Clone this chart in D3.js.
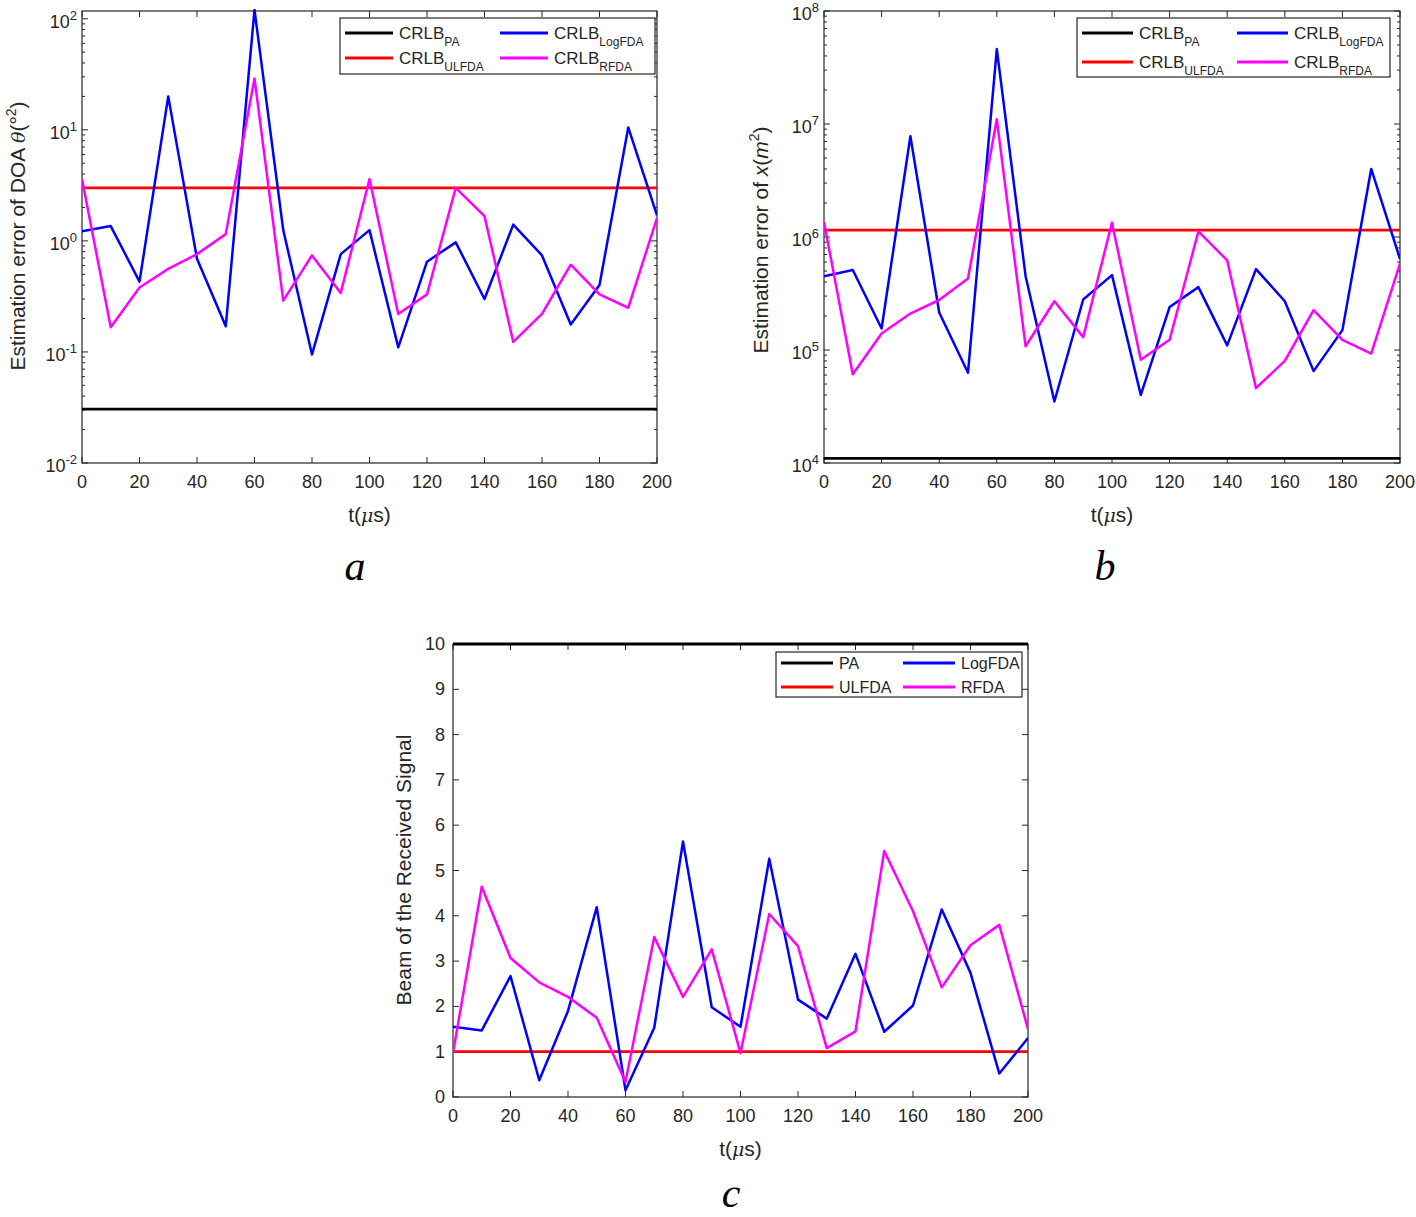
<!DOCTYPE html>
<html><head><meta charset="utf-8">
<script src="https://cdn.jsdelivr.net/npm/d3@7"></script>
<style>body{margin:0;background:#fff}svg{display:block}</style>
</head><body>
<svg id="c" width="1416" height="1217"></svg>
<script>
const tValues = [0,10,20,30,40,50,60,70,80,90,100,110,120,130,140,150,160,170,180,190,200];
const xTicks = [0,20,40,60,80,100,120,140,160,180,200];

// Panel a: estimation error of DOA
const aPA = 0.0305;
const aULFDA = 3.0;
const aLogFDA = [1.22,1.36,0.43,20,0.69,0.17,120,1.25,0.095,0.76,1.25,0.11,0.65,0.97,0.30,1.4,0.74,0.177,0.40,10.5,1.7];
const aRFDA = [3.6,0.167,0.38,0.56,0.76,1.15,29,0.29,0.74,0.34,3.6,0.22,0.33,3.0,1.67,0.123,0.22,0.61,0.33,0.25,1.6];
const aYExp = [-2,-1,0,1,2];

// Panel b: estimation error of x
const bPA = 1.1e4;
const bULFDA = 1.15e6;
const bLogFDA = [4.5e5,5.1e5,1.55e5,7.8e6,2.15e5,6.3e4,4.6e7,4.5e5,3.5e4,2.8e5,4.6e5,4.0e4,2.4e5,3.6e5,1.1e5,5.2e5,2.7e5,6.5e4,1.5e5,4.0e6,6.4e5];
const bRFDA = [1.36e6,6.1e4,1.4e5,2.1e5,2.77e5,4.3e5,1.1e7,1.08e5,2.7e5,1.3e5,1.34e6,8.2e4,1.23e5,1.12e6,6.2e5,4.6e4,8.0e4,2.25e5,1.23e5,9.3e4,5.8e5];
const bYExp = [4,5,6,7,8];

// Panel c: beam of the received signal
const cPA = 10;
const cULFDA = 1;
const cLogFDA = [1.55,1.47,2.67,0.37,1.9,4.19,0.15,1.53,5.64,1.98,1.55,5.26,2.15,1.73,3.16,1.44,2.02,4.14,2.74,0.52,1.30];
const cRFDA = [0.97,4.64,3.07,2.53,2.21,1.75,0.33,3.53,2.21,3.26,0.97,4.04,3.33,1.08,1.45,5.43,4.10,2.42,3.35,3.80,1.50];
const cYTicks = [0,1,2,3,4,5,6,7,8,9,10];

const legendNames = ["PA","ULFDA","LogFDA","RFDA"];
const colors = {PA:"#000000", ULFDA:"#ff0000", LogFDA:"#0000ff", RFDA:"#ff00ff"};

const svg = d3.select("#c");
const AX = "#262626";
const FONT = "Arial, 'Liberation Sans', sans-serif";

function panel(cfg){
  const g = svg.append("g");
  const x = d3.scaleLinear().domain([0,200]).range([cfg.left, cfg.right]);
  const y = cfg.log ? d3.scaleLog().domain(cfg.ydom).range([cfg.bottom, cfg.top])
                    : d3.scaleLinear().domain(cfg.ydom).range([cfg.bottom, cfg.top]);
  const T = 6;
  g.append("rect").attr("x",cfg.left).attr("y",cfg.top).attr("width",cfg.right-cfg.left)
    .attr("height",cfg.bottom-cfg.top).attr("fill","none").attr("stroke",AX).attr("stroke-width",1.2);
  xTicks.forEach(v=>{
    const px = x(v);
    g.append("line").attr("x1",px).attr("x2",px).attr("y1",cfg.bottom).attr("y2",cfg.bottom-T).attr("stroke",AX);
    g.append("line").attr("x1",px).attr("x2",px).attr("y1",cfg.top).attr("y2",cfg.top+T).attr("stroke",AX);
    g.append("text").attr("x",px).attr("y",cfg.bottom+25).attr("text-anchor","middle")
      .attr("font-family",FONT).attr("font-size",18).attr("fill",AX).text(v);
  });
  if(cfg.log){
    const [e0,e1] = [Math.round(Math.log10(cfg.ydom[0])), Math.ceil(Math.log10(cfg.ydom[1]))];
    for(let e=e0;e<=e1;e++){
      for(let m=2;m<=9;m++){
        const v = m*Math.pow(10,e);
        if(v<cfg.ydom[0]||v>cfg.ydom[1]) continue;
        const py = y(v);
        g.append("line").attr("x1",cfg.left).attr("x2",cfg.left+3).attr("y1",py).attr("y2",py).attr("stroke",AX);
        g.append("line").attr("x1",cfg.right).attr("x2",cfg.right-3).attr("y1",py).attr("y2",py).attr("stroke",AX);
      }
    }
    cfg.yExp.forEach(e=>{
      const py = y(Math.pow(10,e));
      g.append("line").attr("x1",cfg.left).attr("x2",cfg.left+T).attr("y1",py).attr("y2",py).attr("stroke",AX);
      g.append("line").attr("x1",cfg.right).attr("x2",cfg.right-T).attr("y1",py).attr("y2",py).attr("stroke",AX);
      const t = g.append("text").attr("x",cfg.left-5).attr("y",py+9).attr("text-anchor","end")
        .attr("font-family",FONT).attr("font-size",18).attr("fill",AX);
      t.append("tspan").text("10");
      t.append("tspan").attr("dy",-8).attr("font-size",13).text(e);
    });
  } else {
    cfg.yTicks.forEach(v=>{
      const py = y(v);
      g.append("line").attr("x1",cfg.left).attr("x2",cfg.left+T).attr("y1",py).attr("y2",py).attr("stroke",AX);
      g.append("line").attr("x1",cfg.right).attr("x2",cfg.right-T).attr("y1",py).attr("y2",py).attr("stroke",AX);
      g.append("text").attr("x",cfg.left-8).attr("y",py+6).attr("text-anchor","end")
        .attr("font-family",FONT).attr("font-size",18).attr("fill",AX).text(v);
    });
  }
  const line = d3.line().x((d,i)=>x(tValues[i])).y(d=>y(d));
  const clipId = "clip"+cfg.id;
  svg.append("clipPath").attr("id",clipId).append("rect")
    .attr("x",cfg.left).attr("y",cfg.top-2).attr("width",cfg.right-cfg.left).attr("height",cfg.bottom-cfg.top+4);
  const lg = g.append("g").attr("clip-path",`url(#${clipId})`);
  lg.append("line").attr("x1",x(0)).attr("x2",x(200)).attr("y1",y(cfg.pa)).attr("y2",y(cfg.pa))
    .attr("stroke",colors.PA).attr("stroke-width",2.8);
  lg.append("line").attr("x1",x(0)).attr("x2",x(200)).attr("y1",y(cfg.ulfda)).attr("y2",y(cfg.ulfda))
    .attr("stroke",colors.ULFDA).attr("stroke-width",2.8);
  lg.append("path").attr("d",line(cfg.logfda)).attr("fill","none").attr("stroke",colors.LogFDA).attr("stroke-width",2.5).attr("stroke-linejoin","round");
  lg.append("path").attr("d",line(cfg.rfda)).attr("fill","none").attr("stroke",colors.RFDA).attr("stroke-width",2.5).attr("stroke-linejoin","round");
  const L = cfg.legend;
  g.append("rect").attr("x",L.x).attr("y",L.y).attr("width",L.w).attr("height",L.h)
    .attr("fill","#fff").attr("stroke",AX).attr("stroke-width",1.2);
  const pos = [[0,0],[0,1],[1,0],[1,1]];
  legendNames.forEach((n,i)=>{
    const [c,r] = pos[i];
    const lx = L.x + 5 + c*L.colW;
    const ly = L.y + L.row0 + r*L.rowH;
    g.append("line").attr("x1",lx).attr("x2",lx+L.lineW).attr("y1",ly).attr("y2",ly)
      .attr("stroke",colors[n]).attr("stroke-width",2.8);
    const t = g.append("text").attr("x",lx+L.lineW+6).attr("y",ly+L.fs*0.35)
      .attr("font-family",FONT).attr("font-size",L.fs).attr("fill",AX);
    if(L.crlb){
      t.append("tspan").text("CRLB");
      t.append("tspan").attr("dy",7).attr("font-size",12).text(n);
    } else t.text(n);
  });
  const xt = g.append("text").attr("x",(cfg.left+cfg.right)/2).attr("y",cfg.bottom+59).attr("text-anchor","middle")
    .attr("font-family",FONT).attr("font-size",21).attr("fill",AX);
  xt.append("tspan").text("t(");
  xt.append("tspan").attr("font-style","italic").attr("font-family","'DejaVu Serif', serif").attr("font-size",19).text("μ");
  xt.append("tspan").text("s)");
  const yt = g.append("text").attr("transform",`translate(${cfg.yTitleX},${cfg.yTitleY}) rotate(-90)`)
    .attr("text-anchor","middle").attr("font-family",FONT).attr("font-size",21).attr("fill",AX);
  cfg.yTitle(yt);
  svg.append("text").attr("x",cfg.capX).attr("y",cfg.capY).attr("text-anchor","middle")
    .attr("font-family","'Liberation Serif', 'Times New Roman', serif").attr("font-style","italic")
    .attr("font-size",42).attr("fill","#000").text(cfg.caption);
}

panel({id:"a", left:82, right:657, top:11, bottom:463, log:true, ydom:[0.01, Math.pow(10,2.07)], yExp:aYExp,
  pa:aPA, ulfda:aULFDA, logfda:aLogFDA, rfda:aRFDA,
  legend:{x:340,y:18,w:315,h:56,row0:15,rowH:25,colW:155,lineW:48,crlb:true,fs:17},
  yTitleX:25, yTitleY:236,
  yTitle:t=>{ t.append("tspan").text("Estimation error of DOA ");
    t.append("tspan").attr("font-style","italic").attr("font-family","'DejaVu Serif', serif").attr("font-size",19).text("θ");
    t.append("tspan").text("(°");
    t.append("tspan").attr("dy",-9).attr("font-size",14).text("2");
    t.append("tspan").attr("dy",9).text(")"); },
  capX:355, capY:580, caption:"a"});

panel({id:"b", left:824, right:1400, top:11, bottom:463, log:true, ydom:[1e4,1e8], yExp:bYExp,
  pa:bPA, ulfda:bULFDA, logfda:bLogFDA, rfda:bRFDA,
  legend:{x:1077,y:18,w:313,h:59,row0:15,rowH:29,colW:155,lineW:51,crlb:true,fs:17},
  yTitleX:768, yTitleY:240,
  yTitle:t=>{ t.append("tspan").text("Estimation error of ");
    t.append("tspan").attr("font-style","italic").text("x");
    t.append("tspan").text("(");
    t.append("tspan").attr("font-style","italic").text("m");
    t.append("tspan").attr("dy",-9).attr("font-size",14).text("2");
    t.append("tspan").attr("dy",9).text(")"); },
  capX:1105, capY:580, caption:"b"});

panel({id:"c", left:453, right:1028, top:644, bottom:1097, log:false, ydom:[0,10], yTicks:cYTicks,
  pa:cPA, ulfda:cULFDA, logfda:cLogFDA, rfda:cRFDA,
  legend:{x:776,y:652,w:246,h:45,row0:11,rowH:24,colW:122,lineW:52,crlb:false,fs:16},
  yTitleX:411, yTitleY:870,
  yTitle:t=>{ t.text("Beam of the Received Signal"); },
  capX:731, capY:1207, caption:"c"});
</script>
</body></html>
